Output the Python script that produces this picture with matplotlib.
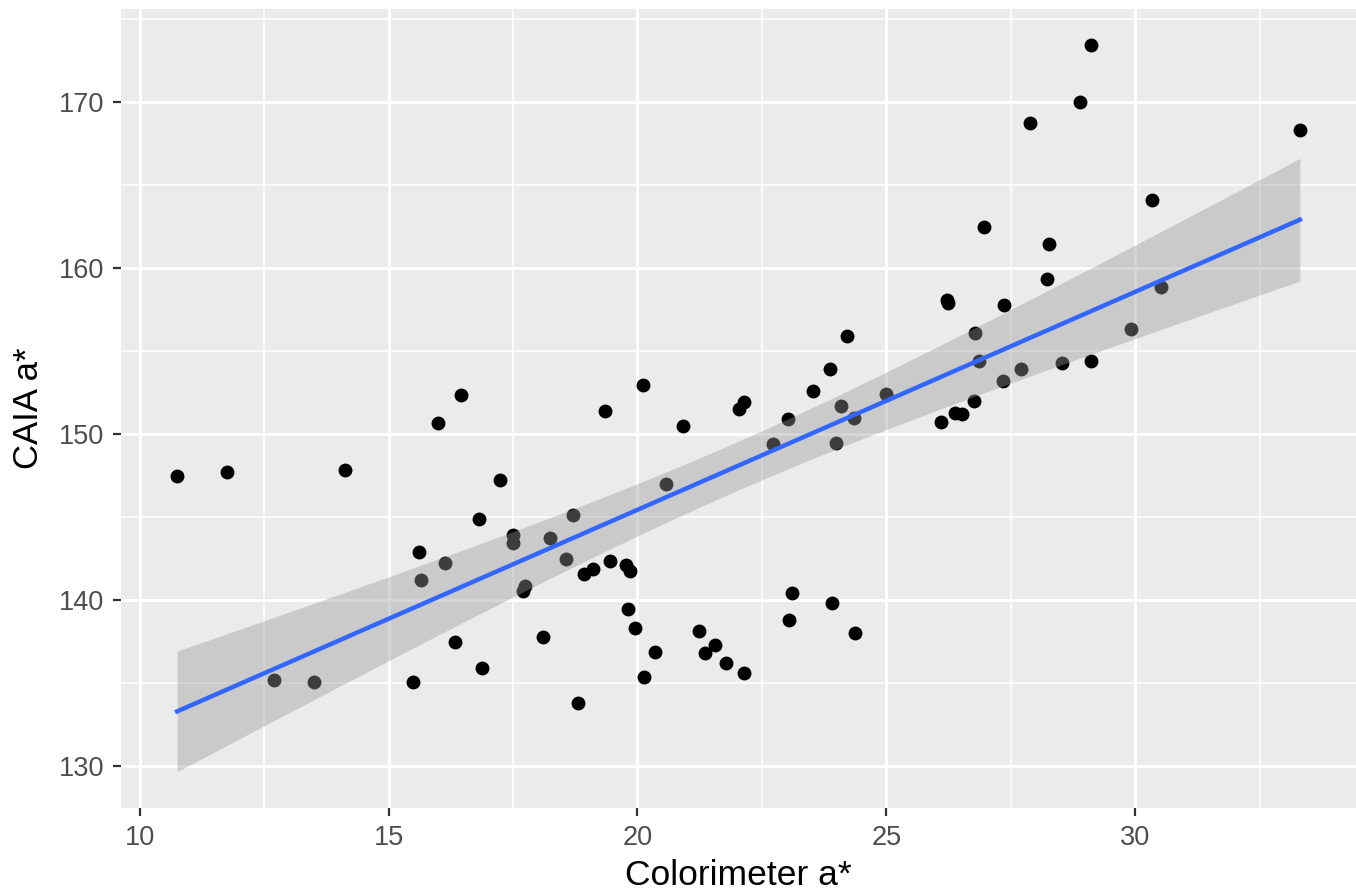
import numpy as np
import matplotlib
matplotlib.use("Agg")
import matplotlib.pyplot as plt

# Colorimeter a* vs CAIA a*
colorimeter = [10.75, 11.75, 14.13, 15.99, 17.24, 16.81, 15.61, 16.14, 15.65, 17.50,
               17.50, 16.33, 16.88, 12.69, 13.51, 15.48, 16.45, 20.12, 19.34, 20.92,
               22.03, 22.14, 20.57, 18.70, 18.25, 18.56, 18.93, 19.11, 19.44, 19.76,
               19.84, 17.73, 17.70, 19.80, 19.96, 21.23, 21.56, 21.36, 20.36, 21.78,
               22.14, 20.14, 18.11, 18.80, 24.22, 23.86, 23.52, 23.02, 22.72, 24.08,
               24.36, 23.98, 25.00, 26.09, 23.11, 23.05, 23.90, 24.38, 26.97, 28.27,
               28.22, 26.22, 26.24, 27.36, 26.78, 30.33, 30.51, 29.91, 26.86, 27.70,
               28.53, 29.11, 27.34, 26.76, 26.39, 26.52, 29.11, 28.89, 33.31, 27.88]
caia = [147.47, 147.70, 147.85, 150.68, 147.23, 144.86, 142.90, 142.25, 141.20, 143.90,
        143.45, 137.50, 135.90, 135.22, 135.06, 135.10, 152.37, 152.93, 151.37, 150.48,
        151.49, 151.90, 146.97, 145.10, 143.75, 142.50, 141.55, 141.87, 142.35, 142.10,
        141.75, 140.86, 140.56, 139.46, 138.33, 138.13, 137.33, 136.80, 136.87, 136.20,
        135.64, 135.40, 137.77, 133.80, 155.90, 153.92, 152.60, 150.90, 149.40, 151.69,
        150.95, 149.48, 152.39, 150.74, 140.42, 138.81, 139.86, 138.03, 162.45, 161.43,
        159.32, 158.06, 157.91, 157.77, 156.05, 164.10, 158.87, 156.30, 154.40, 153.90,
        154.30, 154.38, 153.17, 151.99, 151.28, 151.20, 173.39, 169.96, 168.31, 168.72]

x = np.array(colorimeter); y = np.array(caia)

# lm fit + 95% CI like geom_smooth(method="lm")
n = len(x)
b1, b0 = np.polyfit(x, y, 1)
resid = y - (b0 + b1 * x)
s = np.sqrt(np.sum(resid**2) / (n - 2))
T975 = 1.990  # t quantile, df ~ 78
xs = np.linspace(x.min(), x.max(), 80)
fit = b0 + b1 * xs
se = s * np.sqrt(1 / n + (xs - x.mean())**2 / np.sum((x - x.mean())**2))
lo, hi = fit - T975 * se, fit + T975 * se

plt.rcParams["font.family"] = ["Liberation Sans", "DejaVu Sans"]
W, H = 1356, 892
fig = plt.figure(figsize=(W / 100, H / 100), dpi=100)
ax = fig.add_axes([121 / W, 1 - 808 / H, 1 - 121 / W, (808 - 9) / H])
ax.set_facecolor("#EBEBEB")
for sp in ax.spines.values():
    sp.set_visible(False)

ax.scatter(x, y, s=100, color="black", linewidths=0, zorder=2)
ax.fill_between(xs, lo, hi, color="#999999", alpha=0.4, linewidth=0, zorder=3)
ax.plot(xs, fit, color="#3366FF", lw=3.2, zorder=4)

# ggplot-like expansion of limits
xr = x.max() - x.min()
ax.set_xlim(x.min() - 0.05 * xr, x.max() + 0.05 * xr)
ymin, ymax = min(y.min(), lo.min()), max(y.max(), hi.max())
yr = ymax - ymin
ax.set_ylim(ymin - 0.05 * yr, ymax + 0.05 * yr)

ax.set_xticks([10, 15, 20, 25, 30])
ax.set_yticks([130, 140, 150, 160, 170])
ax.set_xticks([12.5, 17.5, 22.5, 27.5, 32.5], minor=True)
ax.set_yticks([135, 145, 155, 165, 175], minor=True)
ax.grid(which="major", color="white", lw=2.2)
ax.grid(which="minor", color="white", lw=1.1)
ax.set_axisbelow(True)
ax.tick_params(which="major", length=6, width=1.6, color="#333333",
               labelsize=19.5, labelcolor="#4D4D4D", pad=6)
ax.tick_params(which="minor", length=0)

ax.set_xlabel("Colorimeter a*", fontsize=25.5, color="black", labelpad=6)
ax.set_ylabel("CAIA a*", fontsize=25, color="black", labelpad=10)

fig.savefig("out.png", dpi=100, facecolor="white")
